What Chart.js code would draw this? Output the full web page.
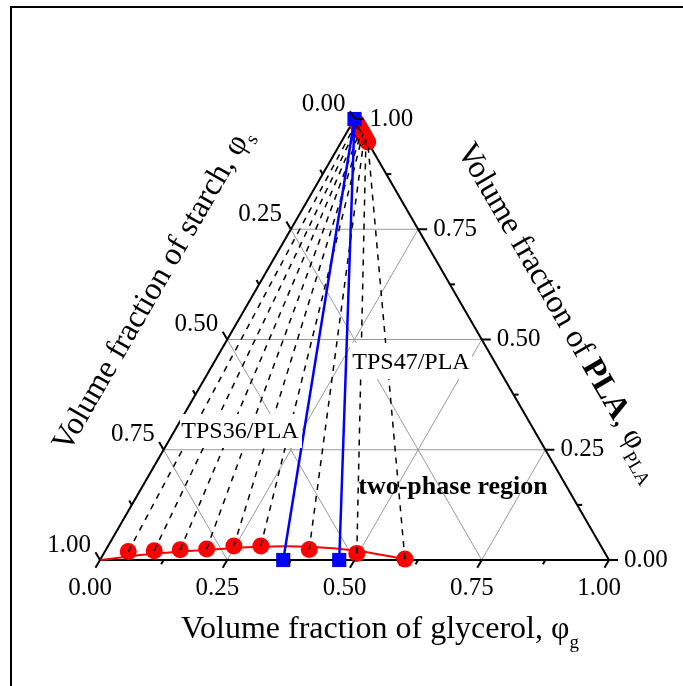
<!DOCTYPE html>
<html>
<head>
<meta charset="utf-8">
<script src="https://cdn.jsdelivr.net/npm/chart.js@4.4.0/dist/chart.umd.min.js"></script>
<style>
  html, body { margin: 0; padding: 0; background: #fff; }
  canvas { display: block; }
</style>
</head>
<body>
<canvas id="ternary" width="683" height="686"></canvas>
<script>
const H = Math.sqrt(3) / 2;

// axis ticks (fractions) and labels
const tickValues = [0, 0.25, 0.5, 0.75, 1];
const minorValues = [0.125, 0.375, 0.625, 0.875];
const tickLabels = ["0.00", "0.25", "0.50", "0.75", "1.00"];
const gridValues = [0.25, 0.5, 0.75];

// TPS-rich phase (bottom branch): glycerol / PLA volume fractions
const tpsPhaseGly = [0.046, 0.096, 0.146, 0.197, 0.247, 0.300, 0.399, 0.497, 0.598];
const tpsPhasePla = [0.019, 0.021, 0.023, 0.025, 0.032, 0.032, 0.024, 0.015, 0.002];

// PLA-rich phase (near the PLA corner), same order as above
const plaPhaseGly = [0.008, 0.013, 0.018, 0.023, 0.028, 0.033, 0.039, 0.045, 0.052];
const plaPhasePla = [0.992, 0.987, 0.982, 0.977, 0.972, 0.967, 0.961, 0.955, 0.948];

// fitted binodal along the starch side
const binodalGly = [0, 0.097, 0.199, 0.299, 0.396, 0.494, 0.598];
const binodalPla = [0, 0.014, 0.023, 0.030, 0.030, 0.021, 0.002];

// TPS compositions diluted with PLA
const blendNames = ["TPS36/PLA", "TPS47/PLA"];
const blendGly = [0.36, 0.47];

// ternary (glycerol, PLA) -> cartesian
function pt(g, p) {
    return { x: g + p / 2, y: p * H };
}
const gap = { x: null, y: null };

let gridData = [];
gridValues.forEach(t => {
    gridData.push(pt(0, t), pt(1 - t, t), gap);       // constant PLA
    gridData.push(pt(t, 0), pt(t, 1 - t), gap);       // constant glycerol
    gridData.push(pt(1 - t, 0), pt(0, 1 - t), gap);   // constant starch
});

let tieData = [];
tpsPhaseGly.forEach((g, i) => {
    tieData.push(pt(g, tpsPhasePla[i]), pt(plaPhaseGly[i], plaPhasePla[i]), gap);
});

let dilutionData = [];
blendGly.forEach(g => {
    dilutionData.push(pt(0, 1), pt(g, 0), gap);
});

const lineDefaults = { showLine: true, pointRadius: 0, spanGaps: false, clip: false };

const ternaryAxes = {
    id: "ternaryAxes",
    afterDraw(chart) {
        const ctx = chart.ctx;
        const xs = chart.scales.x, ys = chart.scales.y;
        const px = (g, p) => {
            const q = pt(g, p);
            return [xs.getPixelForValue(q.x), ys.getPixelForValue(q.y)];
        };
        ctx.save();
        ctx.strokeStyle = "#000";
        ctx.lineWidth = 2;
        const tick = (x, y, dx, dy, len) => {
            ctx.beginPath();
            ctx.moveTo(x, y);
            ctx.lineTo(x + dx * len, y + dy * len);
            ctx.stroke();
        };
        [[tickValues, 9], [minorValues, 5]].forEach(([vals, len]) => {
            vals.forEach(t => {
                let [x, y] = px(t, 0);
                tick(x, y, -0.5, H, len);
                [x, y] = px(1 - t, t);
                tick(x, y, 1, 0, len);
                [x, y] = px(0, 1 - t);
                tick(x, y, -0.5, -H, len);
            });
        });

        ctx.fillStyle = "#000";
        ctx.font = "25px 'Liberation Serif'";
        ctx.textBaseline = "middle";
        tickValues.forEach((t, i) => {
            let [x, y] = px(t, 0);
            ctx.textAlign = "center";
            ctx.fillText(tickLabels[i], x - 10, y + 28);
            [x, y] = px(1 - t, t);
            ctx.textAlign = "left";
            ctx.fillText(tickLabels[i], x + 15, y);
            [x, y] = px(0, 1 - t);
            ctx.textAlign = "right";
            ctx.fillText(tickLabels[i], x - 9, y - 15);
        });

        // blend labels on white boxes
        ctx.font = "24px 'Liberation Serif'";
        ctx.textAlign = "center";
        ctx.fillStyle = "#fff";
        ctx.fillRect(180, 414, 122, 34);
        ctx.fillRect(350, 343, 122, 36);
        ctx.fillStyle = "#000";
        ctx.fillText(blendNames[0], 240, 432);
        ctx.fillText(blendNames[1], 411, 363);
        ctx.font = "bold 26px 'Liberation Serif'";
        ctx.fillText("two-phase region", 453, 487);

        // axis titles with subscripts
        const title = (cx, cy, angle, runs) => {
            ctx.save();
            ctx.translate(cx, cy);
            ctx.rotate(angle);
            let total = 0;
            runs.forEach(r => { ctx.font = r.font; r.w = ctx.measureText(r.text).width; total += r.w; });
            let x = -total / 2;
            ctx.textAlign = "left";
            runs.forEach(r => {
                ctx.font = r.font;
                ctx.fillText(r.text, x, r.dy || 0);
                x += r.w;
            });
            ctx.restore();
        };
        const big = "32px 'Liberation Serif'";
        const bigBold = "bold 32px 'Liberation Serif'";
        const sub = "19px 'Liberation Serif'";
        title(380, 630, 0, [
            { text: "Volume fraction of glycerol, φ", font: big },
            { text: "g", font: sub, dy: 13 }
        ]);
        title(153, 290, -Math.PI / 3, [
            { text: "Volume fraction of starch, φ", font: big },
            { text: "s", font: sub, dy: 11 }
        ]);
        title(560, 312, Math.PI / 3, [
            { text: "Volume fraction of ", font: big },
            { text: "PLA", font: bigBold },
            { text: ", φ", font: big },
            { text: "PLA", font: sub, dy: 13 }
        ]);

        // outer frame
        ctx.lineWidth = 2;
        ctx.strokeRect(11, 7, 720, 720);
        ctx.restore();
    }
};

new Chart(document.getElementById("ternary"), {
    type: "scatter",
    data: {
        datasets: [
            { ...lineDefaults, data: gridData, borderColor: "#999", borderWidth: 1, order: 9 },
            { ...lineDefaults, data: [pt(0, 0), pt(1, 0), pt(0, 1), pt(0, 0)], borderColor: "#000", borderWidth: 2, order: 8 },
            { ...lineDefaults, data: binodalGly.map((g, i) => pt(g, binodalPla[i])), borderColor: "red", borderWidth: 2, tension: 0.3, order: 7 },
            { data: tpsPhaseGly.map((g, i) => pt(g, tpsPhasePla[i])), backgroundColor: "red", borderWidth: 0, pointRadius: 8.5, clip: false, order: 6 },
            { data: plaPhaseGly.map((g, i) => pt(g, plaPhasePla[i])), showLine: true, borderColor: "red", borderWidth: 2, backgroundColor: "red", pointBorderWidth: 0, pointRadius: 8.5, clip: false, order: 5 },
            { ...lineDefaults, data: tieData, borderColor: "#000", borderWidth: 1.5, borderDash: [6, 6], order: 4 },
            { ...lineDefaults, data: dilutionData, borderColor: "#0000ff", borderWidth: 2.5, order: 3 },
            { data: [pt(0, 1)].concat(blendGly.map(g => pt(g, 0))), pointStyle: "rect", pointRadius: 10, backgroundColor: "#0000ff", borderWidth: 0, clip: false, order: 2 }
        ]
    },
    options: {
        responsive: false,
        animation: false,
        events: [],
        layout: { padding: { left: 100, right: 74, top: 119, bottom: 126 } },
        scales: {
            x: { type: "linear", min: 0, max: 1, display: false },
            y: { type: "linear", min: 0, max: H, display: false }
        },
        plugins: {
            legend: { display: false },
            tooltip: { enabled: false }
        }
    },
    plugins: [ternaryAxes]
});
</script>
</body>
</html>
